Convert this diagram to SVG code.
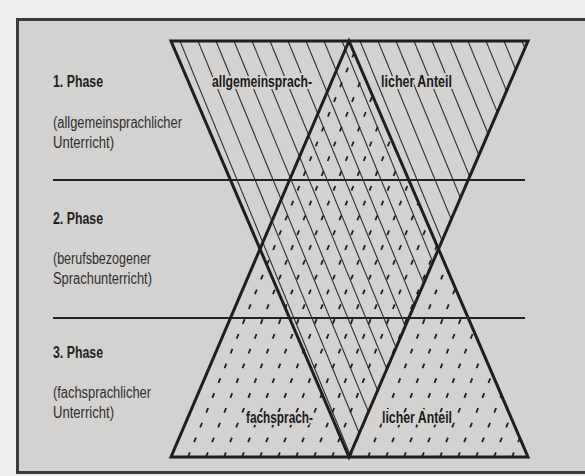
<svg xmlns="http://www.w3.org/2000/svg" width="585" height="476" viewBox="0 0 585 476">
<style>
.lbl{font-family:"Liberation Sans",Arial,sans-serif;font-weight:bold;font-size:16px;fill:#1e1e1e}
.sub{font-family:"Liberation Sans",Arial,sans-serif;font-size:16px;fill:#2e2e2e}
.tl{font-family:"Liberation Sans",Arial,sans-serif;font-weight:bold;font-size:16px;fill:#1a1a1a;stroke:#d3d2d1;stroke-width:4;paint-order:stroke;stroke-linejoin:round}
.hs{stroke:#2e2e2e;stroke-width:1.1;fill:none}
.hd{stroke:#1e1e1e;stroke-width:1.8;fill:none;stroke-dasharray:5 11}
.tri{fill:none;stroke:#1e1e1e;stroke-width:3;stroke-linejoin:miter}
.sep{stroke:#222;stroke-width:1.8}
</style>
<defs>
<clipPath id="cInv"><polygon points="171,41 528,41 349,457"/></clipPath>
<clipPath id="cUp"><polygon points="171,457 528,457 349,41"/></clipPath>
</defs>
<rect x="0" y="0" width="585" height="476" fill="#eeeded"/>
<rect id="frame" x="17.5" y="19.5" width="580" height="453" fill="#d3d2d1" stroke="#3a3a3a" stroke-width="3"/>
<g id="separators">
<line class="sep" x1="53" y1="180" x2="525" y2="180"/>
<line class="sep" x1="53" y1="318" x2="525" y2="318"/>
</g>
<g id="phase1">
<text class="lbl" x="53" y="87" textLength="50" lengthAdjust="spacingAndGlyphs">1. Phase</text>
<text class="sub" x="53" y="128" textLength="129" lengthAdjust="spacingAndGlyphs">(allgemeinsprachlicher</text>
<text class="sub" x="53" y="148" textLength="61" lengthAdjust="spacingAndGlyphs">Unterricht)</text>
</g>
<g id="phase2">
<text class="lbl" x="53" y="224" textLength="50" lengthAdjust="spacingAndGlyphs">2. Phase</text>
<text class="sub" x="53" y="264" textLength="98" lengthAdjust="spacingAndGlyphs">(berufsbezogener</text>
<text class="sub" x="53" y="284" textLength="99" lengthAdjust="spacingAndGlyphs">Sprachunterricht)</text>
</g>
<g id="phase3">
<text class="lbl" x="53" y="358" textLength="50" lengthAdjust="spacingAndGlyphs">3. Phase</text>
<text class="sub" x="53" y="398" textLength="98" lengthAdjust="spacingAndGlyphs">(fachsprachlicher</text>
<text class="sub" x="53" y="418" textLength="61" lengthAdjust="spacingAndGlyphs">Unterricht)</text>
</g>
<g id="hatch-general" clip-path="url(#cInv)">
<path class="hs" d="M180,41L351,457M198,41L369,457M216,41L387,457M234,41L405,457M252,41L423,457M270,41L441,457M288,41L459,457M306,41L477,457M324,41L495,457M342,41L513,457M360,41L531,457M378,41L549,457M396,41L567,457M414,41L585,457M432,41L603,457M450,41L621,457M468,41L639,457M486,41L657,457M504,41L675,457M522,41L693,457"/>
</g>
<g id="hatch-special" clip-path="url(#cUp)">
<path class="hd" d="M188,457L359,41M206,457L377,41M224,457L395,41M242,457L413,41M260,457L431,41M278,457L449,41M296,457L467,41M314,457L485,41M332,457L503,41M350,457L521,41M368,457L539,41M386,457L557,41M404,457L575,41M422,457L593,41M440,457L611,41M458,457L629,41M476,457L647,41M494,457L665,41M512,457L683,41M170,457L341,41M152,457L323,41"/>
</g>
<g id="tri-general">
<polygon class="tri" points="171,41 528,41 349,457"/>
<text class="tl" x="212" y="87" textLength="100" lengthAdjust="spacingAndGlyphs">allgemeinsprach-</text>
<text class="tl" x="381" y="87" textLength="71" lengthAdjust="spacingAndGlyphs">licher Anteil</text>
</g>
<g id="tri-special">
<polygon class="tri" points="171,457 528,457 349,41"/>
<text class="tl" x="246" y="423" textLength="67" lengthAdjust="spacingAndGlyphs">fachsprach-</text>
<text class="tl" x="382" y="423" textLength="70" lengthAdjust="spacingAndGlyphs">licher Anteil</text>
</g>
</svg>
